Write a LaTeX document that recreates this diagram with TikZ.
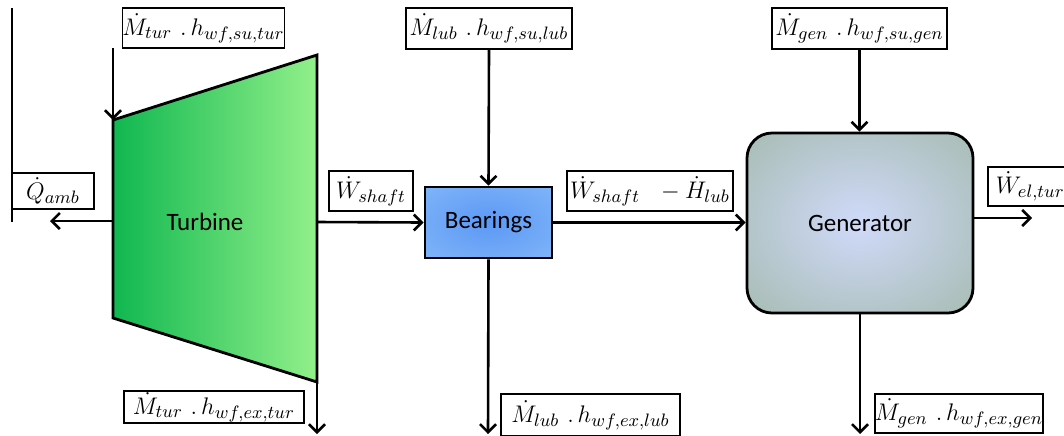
\documentclass[tikz,border=0pt]{standalone}
\usepackage{fontspec}
\setsansfont{Carlito}
\usetikzlibrary{arrows.meta}
\DeclareMathSizes{12}{12}{8.8}{7}
\definecolor{turdark}{RGB}{16,183,80}
\definecolor{turlight}{RGB}{146,240,138}
\definecolor{bearcenter}{RGB}{92,152,245}
\definecolor{bearedge}{RGB}{142,192,250}
\definecolor{gencenter}{RGB}{208,218,250}
\definecolor{genedge}{RGB}{148,174,146}
\pgfdeclareradialshading{bearshade}{\pgfpoint{0bp}{0bp}}{%
  color(0bp)=(bearcenter); color(50bp)=(bearedge); color(75bp)=(bearedge)}
\pgfdeclareradialshading{genshade}{\pgfpoint{0bp}{0bp}}{%
  color(0bp)=(gencenter); color(52bp)=(genedge); color(75bp)=(genedge)}
\begin{document}
\begin{tikzpicture}[x=0.5pt,y=-0.5pt,
  flow/.style={line width=1.3pt,-{Straight Barb[length=4pt,width=8pt,line width=1.3pt]}},
  lbl/.style={draw,line width=0.75pt,fill=white,inner sep=0pt,
    font=\fontsize{12}{14}\selectfont},
  blocktxt/.style={font=\sffamily\fontsize{12.5}{14}\selectfont},
  block/.style={draw,line width=1.4pt,inner sep=0pt,blocktxt}]
\useasboundingbox (0,0) rectangle (1064,435);
\clip (0,0) rectangle (1064,435);

% turbine corners and free ends of connectors
\coordinate (tl) at (113,120);
\coordinate (tr) at (317,55);
\coordinate (br) at (317,382);
\coordinate (bl) at (113,318);
\coordinate (tin) at (113,48);
\coordinate (qsrc) at (113,221);
\coordinate (qtip) at (50,221);
\coordinate (shsrc) at (317,222);
\coordinate (turout) at (317,434);
\coordinate (lubout) at (488,434);
\coordinate (genout) at (860,434);
\coordinate (eltip) at (1032,218);

% turbine
\shade[left color=turdark,right color=turlight] (tl) -- (tr) -- (br) -- (bl) -- cycle;
\draw[line width=1.4pt,line join=miter] (tl) -- (tr) -- (br) -- (bl) -- cycle;
\node[blocktxt] (turb) at (205,222) {Turbine};

% bearings and generator
\node[block,shading=bearshade,minimum width=63.5pt,minimum height=35.5pt]
  (bear) at (488.5,222.5) {Bearings};
\node[block,shading=genshade,rounded corners=12.5pt,minimum width=113pt,minimum height=90pt]
  (gen) at (860,223) {Generator};

% left boundary line
\coordinate (wtop) at (12,8);
\coordinate (wbot) at (12,222);
\draw[line width=0.75pt] (wtop) -- (wbot);

% energy labels
\node[lbl,minimum width=79.5pt,minimum height=20pt] (tursu) at (203.5,28)
  {$\dot{M}_{tur}\ .\,h_{wf,su,tur}$};
\node[lbl,minimum width=83pt,minimum height=20.5pt] (lubsu) at (489,28.5)
  {$\dot{M}_{lub}\ .\,h_{wf,su,lub}$};
\node[lbl,minimum width=87.5pt,minimum height=20.5pt] (gensu) at (859.5,28.5)
  {$\dot{M}_{gen}\ .\,h_{wf,su,gen}$};
\node[lbl,minimum width=41pt,minimum height=18pt] (qamb) at (53,191)
  {$\dot{Q}_{amb}$};
\node[lbl,minimum width=42pt,minimum height=20pt] (wshaft) at (371,191)
  {$\dot{W}_{shaft}$};
\node[lbl,minimum width=83pt,minimum height=20pt] (wdiff) at (650,191)
  {$\dot{W}_{shaft}\ \ -\dot{H}_{lub}$};
\node[lbl,anchor=west,inner xsep=4pt,text width=42pt,align=left,minimum height=19.5pt]
  (wel) at (987,186.5) {$\dot{W}_{el,tur}$};
\node[lbl,minimum width=90pt,minimum height=16pt] (turex) at (214,407)
  {$\dot{M}_{tur}\ .\,h_{wf,ex,tur}$};
\node[lbl,minimum width=89.5pt,minimum height=21pt] (lubex) at (590.5,415)
  {$\dot{M}_{lub}\ .\,h_{wf,ex,lub}$};
\node[lbl,minimum width=83pt,minimum height=19.5pt] (genex) at (959,413.5)
  {$\dot{M}_{gen}\ .\,h_{wf,ex,gen}$};

% flows
\draw[flow] (tin) -- (tl);
\draw[flow] (qsrc) -- (qtip);
\draw[flow] (shsrc) -- (bear.west);
\draw[flow] (lubsu.south) -- (bear.north);
\draw[flow] (bear.east) -- (bear.east -| gen.west);
\draw[flow] (gensu.south) -- (gensu.south |- gen.north);
\draw[flow] (gen.east |- eltip) -- (eltip);
\draw[flow] (br) -- (turout);
\draw[flow] (bear.south) -- (lubout);
\draw[flow] (gen.south) -- (genout);
\end{tikzpicture}
\end{document}
